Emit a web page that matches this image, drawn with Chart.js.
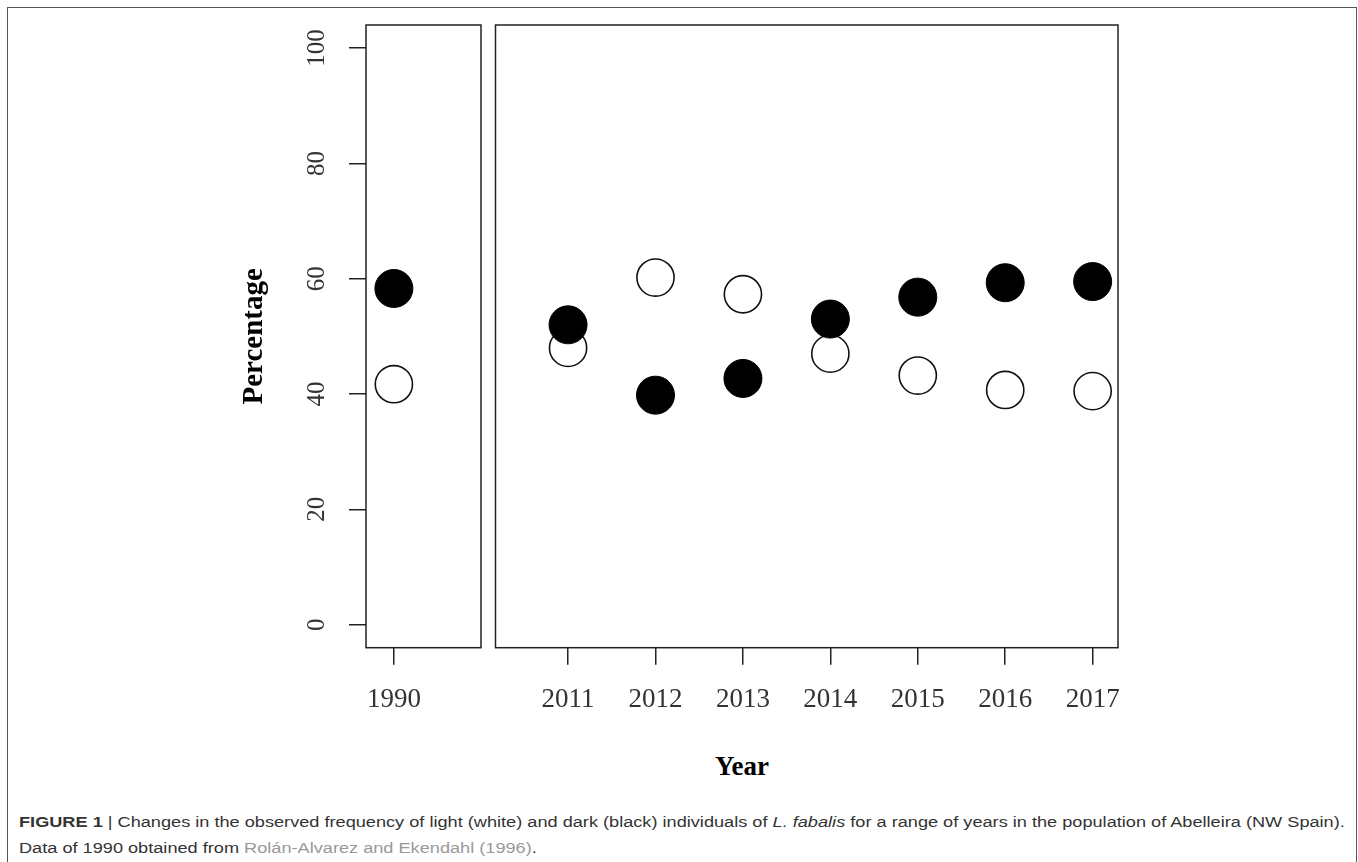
<!DOCTYPE html>
<html>
<head>
<meta charset="utf-8">
<script src="https://cdn.jsdelivr.net/npm/chart.js@4.4.0/dist/chart.umd.min.js"></script>
<style>
  html, body { margin: 0; padding: 0; background: #fff; }
  body { width: 1358px; height: 862px; position: relative; overflow: hidden; }
  #frame { position: absolute; left: 7px; top: 7px; width: 1350px; height: 900px;
           border: 1.5px solid #555; border-bottom: none; box-sizing: border-box; }
  #left { position: absolute; left: 200px; top: 0; }
  #right { position: absolute; left: 490px; top: 0; }
  #xtitle { position: absolute; left: 642px; width: 200px; top: 751px; text-align: center;
            font: bold 27px "Liberation Serif"; line-height: 30px; color: #000; }
  #caption { position: absolute; left: 19px; top: 809px; font-family: "Liberation Sans";
             font-size: 15.5px; line-height: 25.5px; color: #333; white-space: nowrap;
             transform-origin: 0 0; }
  #caption .ref { color: #999; }
  #line1 { display: inline-block; }
</style>
</head>
<body>
<div id="frame"></div>
<canvas id="left" width="290" height="740"></canvas>
<canvas id="right" width="640" height="740"></canvas>
<div id="xtitle">Year</div>
<div id="caption">
  <div><span id="line1"><b>FIGURE 1</b> | Changes in the observed frequency of light (white) and dark (black) individuals of <i>L. fabalis</i> for a range of years in the population of Abelleira (NW Spain).</span></div>
  <div>Data of 1990 obtained from <span class="ref">Rolán-Alvarez and Ekendahl (1996)</span>.</div>
</div>
<script>
// data (percent)
var earlyYears = [1990];
var earlyDark = [58.3];
var earlyLight = [41.7];

var recentYears = [2011, 2012, 2013, 2014, 2015, 2016, 2017];
var recentDark = [52.0, 39.8, 42.7, 53.0, 56.8, 59.3, 59.5];
var recentLight = [48.0, 60.2, 57.3, 47.0, 43.2, 40.7, 40.5];

var yTicks = [0, 20, 40, 60, 80, 100];

// stretch caption to the width it has in the figure
var cap = document.getElementById('caption');
var w = document.getElementById('line1').offsetWidth;
cap.style.transform = 'scaleX(' + (1326 / w) + ')';

toPoints = function (xs, ys) {
    return xs.map(function (x, i) { return {x: x, y: ys[i]}; });
}

// R style box around the plot region
var boxPlugin = {
    id: 'box',
    afterDraw: function (chart) {
        var a = chart.chartArea, ctx = chart.ctx;
        ctx.save();
        ctx.strokeStyle = '#222';
        ctx.lineWidth = 1.5;
        ctx.strokeRect(a.left, a.top, a.right - a.left, a.bottom - a.top);
        ctx.restore();
    }
};

makeDatasets = function (xs, dark, light) {
    return [{
        label: 'dark',
        data: toPoints(xs, dark),
        backgroundColor: '#000',
        borderColor: '#000',
        borderWidth: 1,
        pointRadius: 19
    }, {
        label: 'light',
        data: toPoints(xs, light),
        backgroundColor: '#fff',
        borderColor: '#111',
        borderWidth: 1.6,
        pointRadius: 18.6
    }];
}

var tickFont = {family: 'Liberation Serif', size: 27};

xScale = function (min, max, years) {
    return {
        type: 'linear',
        min: min,
        max: max,
        afterBuildTicks: function (s) {
            s.ticks = years.map(function (v) { return {value: v}; });
        },
        afterFit: function (s) {
            s.height = 92.3;
            s.paddingLeft = 0;
            s.paddingRight = 0;
        },
        border: {display: false},
        grid: {drawOnChartArea: false, tickLength: 17, color: '#222', lineWidth: 1.5},
        ticks: {font: tickFont, color: '#333', padding: 19, maxRotation: 0, autoSkip: false,
                callback: function (v) { return String(v); }}
    };
}

var common = {
    responsive: false,
    animation: false,
    plugins: {legend: {display: false}, tooltip: {enabled: false}}
};

new Chart('left', {
    type: 'scatter',
    data: {datasets: makeDatasets(earlyYears, earlyDark, earlyLight)},
    options: Object.assign({}, common, {
        layout: {autoPadding: false, padding: {top: 25, right: 9, left: 0, bottom: 0}},
        scales: {
            x: xScale(1989.68, 1991.0, earlyYears),
            y: {
                min: -4,
                max: 104,
                afterBuildTicks: function (s) {
                    s.ticks = yTicks.map(function (v) { return {value: v}; });
                },
                afterFit: function (s) {
                    s.width = 166;
                    s.paddingTop = 0;
                    s.paddingBottom = 0;
                },
                border: {display: false},
                grid: {drawOnChartArea: false, tickLength: 17, color: '#222', lineWidth: 1.5},
                ticks: {font: {family: 'Liberation Serif', size: 25}, color: '#333', padding: 13,
                        minRotation: 90, maxRotation: 90, crossAlign: 'center'},
                title: {display: true, text: 'Percentage', color: '#000',
                        font: {family: 'Liberation Serif', size: 29, weight: 'bold'},
                        padding: {top: 37, bottom: 0}}
            }
        }
    }),
    plugins: [boxPlugin]
});

new Chart('right', {
    type: 'scatter',
    data: {datasets: makeDatasets(recentYears, recentDark, recentLight)},
    options: Object.assign({}, common, {
        layout: {autoPadding: false, padding: {top: 25, right: 12, left: 5.5, bottom: 0}},
        scales: {
            x: xScale(2010.17, 2017.29, recentYears),
            y: {display: false, min: -4, max: 104}
        }
    }),
    plugins: [boxPlugin]
});
</script>
</body>
</html>
